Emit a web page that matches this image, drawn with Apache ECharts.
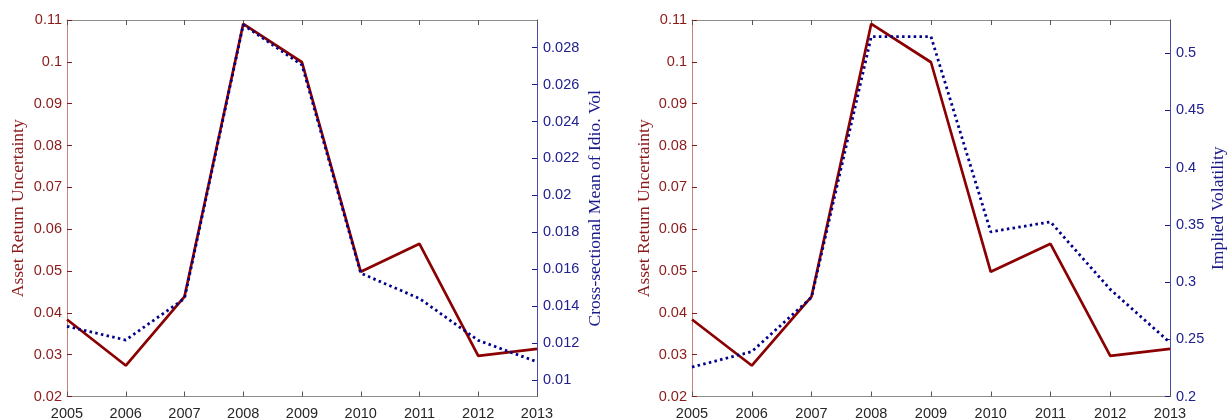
<!DOCTYPE html>
<html>
<head>
<meta charset="utf-8">
<script src="https://cdn.jsdelivr.net/npm/echarts@6/dist/echarts.min.js"></script>
<style>
  html, body { margin: 0; padding: 0; background: #fff; }
  #chart { width: 1227px; height: 418px; }
</style>
</head>
<body>
<div id="chart"></div>
<script>
// years on the x axis
const years = ['2005', '2006', '2007', '2008', '2009', '2010', '2011', '2012', '2013'];
// asset return uncertainty (left axis, both panels)
const assetUnc = [0.0384, 0.0274, 0.0439, 0.1091, 0.0999, 0.0498, 0.0565, 0.0297, 0.0314];
// cross-sectional mean of idiosyncratic vol (right axis, left panel)
const idioVol = [0.0129, 0.01216, 0.01441, 0.02924, 0.02706, 0.01578, 0.01441, 0.01214, 0.01098];
// implied volatility (right axis, right panel)
const implVol = [0.2257, 0.2392, 0.2866, 0.5145, 0.5145, 0.3439, 0.3526, 0.2936, 0.2471];

const RED = '#8b0000';
const BLUE = '#00008b';
const fmt = v => String(+v.toFixed(6));

let chart = echarts.init(document.getElementById('chart'));

//build the x axes (bottom with labels, top only ticks) for one grid
function xAxes(gi) {
    return [{
        type: 'category', gridIndex: gi, data: years, boundaryGap: false, position: 'bottom',
        axisLine: { lineStyle: { color: '#8c8c8c', width: 1 } },
        axisTick: { inside: true, length: 5, lineStyle: { color: '#555' } },
        axisLabel: { color: '#262626', fontFamily: 'Liberation Sans', fontSize: 14.5, margin: 10, interval: 0 },
        splitLine: { show: false }
    }, {
        type: 'category', gridIndex: gi, data: years, boundaryGap: false, position: 'top',
        axisLine: { lineStyle: { color: '#8c8c8c', width: 1 } },
        axisTick: { inside: true, length: 5, lineStyle: { color: '#555' } },
        axisLabel: { show: false },
        splitLine: { show: false }
    }];
}

function leftAxis(gi, gap) {
    return {
        type: 'value', gridIndex: gi, position: 'left', min: 0.02, max: 0.11, interval: 0.01,
        name: 'Asset Return Uncertainty', nameLocation: 'middle', nameGap: gap, nameRotate: 90,
        nameTextStyle: { color: '#8b1a1a', fontFamily: 'Liberation Serif', fontSize: 17.5 },
        axisLine: { show: true, lineStyle: { color: '#c98080', width: 1 } },
        axisTick: { show: true, inside: true, length: 5, lineStyle: { color: '#8b1a1a' } },
        axisLabel: { color: '#8b1a1a', fontFamily: 'Liberation Sans', fontSize: 14.5, margin: 5, formatter: fmt },
        splitLine: { show: false }
    };
}

let option = {
    animation: false,
    backgroundColor: '#fff',
    grid: [
        { left: 67, right: 690, top: 20, bottom: 21.5, outerBoundsMode: 'none', containLabel: false },
        { left: 692, right: 57, top: 20, bottom: 21.5, outerBoundsMode: 'none', containLabel: false }
    ],
    xAxis: xAxes(0).concat(xAxes(1)),
    yAxis: [
        leftAxis(0, 40),
        {
            type: 'value', gridIndex: 0, position: 'right', min: 0.0091, max: 0.0295,
            splitNumber: 10, minInterval: 0.002, maxInterval: 0.002,
            name: 'Cross-sectional Mean of Idio. Vol', nameLocation: 'middle', nameGap: 49, nameRotate: 90,
            nameTextStyle: { color: '#1a1a8b', fontFamily: 'Liberation Serif', fontSize: 17.5 },
            axisLine: { show: true, lineStyle: { color: '#4b4bab', width: 1 } },
            axisTick: { show: true, inside: true, length: 5, lineStyle: { color: '#1a1a8b' } },
            axisLabel: { color: '#20208f', fontFamily: 'Liberation Sans', fontSize: 14.5, margin: 6,
                showMinLabel: false, showMaxLabel: false, formatter: fmt },
            splitLine: { show: false }
        },
        leftAxis(1, 39),
        {
            type: 'value', gridIndex: 1, position: 'right', min: 0.2, max: 0.529, interval: 0.05,
            name: 'Implied Volatility', nameLocation: 'middle', nameGap: 39, nameRotate: 90,
            nameTextStyle: { color: '#1a1a8b', fontFamily: 'Liberation Serif', fontSize: 17.5 },
            axisLine: { show: true, lineStyle: { color: '#4b4bab', width: 1 } },
            axisTick: { show: true, inside: true, length: 5, lineStyle: { color: '#1a1a8b' } },
            axisLabel: { color: '#20208f', fontFamily: 'Liberation Sans', fontSize: 14.5, margin: 6,
                showMaxLabel: false, formatter: fmt },
            splitLine: { show: false }
        }
    ],
    series: [
        { type: 'line', xAxisIndex: 0, yAxisIndex: 0, data: assetUnc, showSymbol: false,
          lineStyle: { color: RED, width: 2.7 }, z: 3 },
        { type: 'line', xAxisIndex: 0, yAxisIndex: 1, data: idioVol, showSymbol: false,
          lineStyle: { color: BLUE, width: 2.8, type: [2.5, 3.3] }, z: 4 },
        { type: 'line', xAxisIndex: 2, yAxisIndex: 2, data: assetUnc, showSymbol: false,
          lineStyle: { color: RED, width: 2.7 }, z: 3 },
        { type: 'line', xAxisIndex: 2, yAxisIndex: 3, data: implVol, showSymbol: false,
          lineStyle: { color: BLUE, width: 2.8, type: [2.5, 3.3] }, z: 4 }
    ]
};

chart.setOption(option);
</script>
</body>
</html>
